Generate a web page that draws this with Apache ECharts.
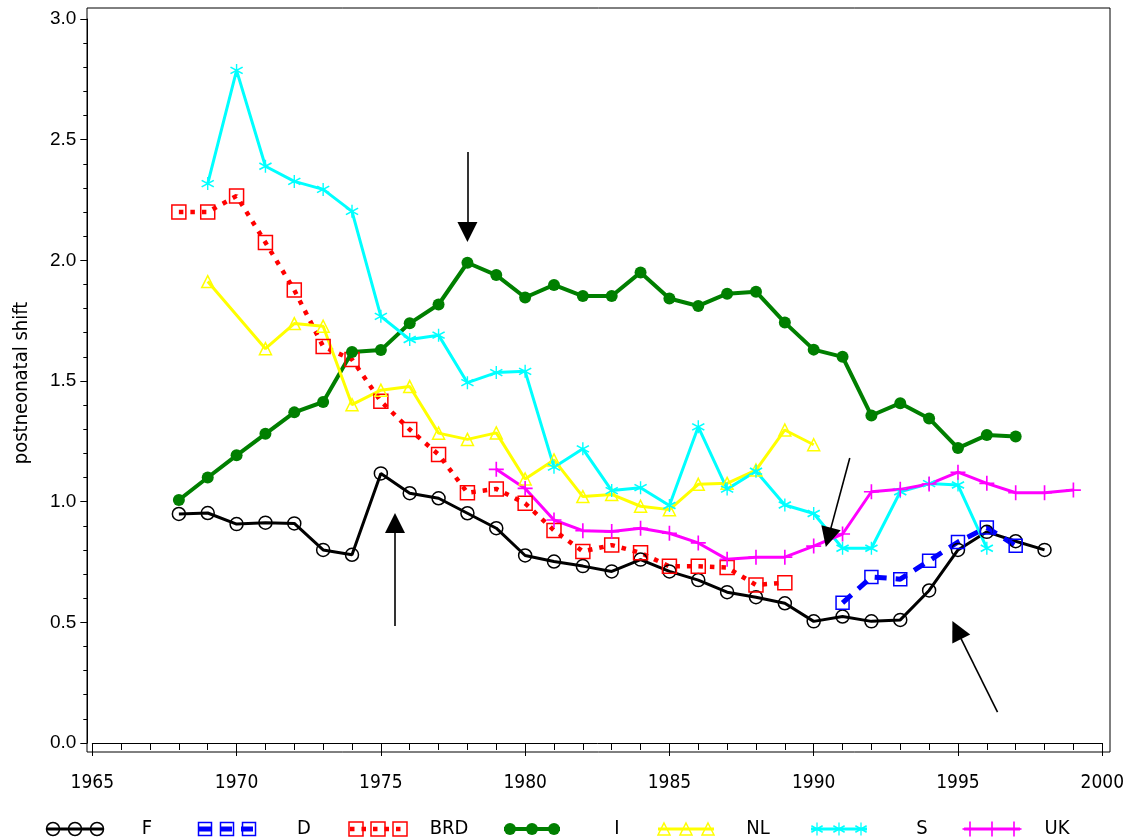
<!DOCTYPE html>
<html>
<head>
<meta charset="utf-8">
<script src="https://cdn.jsdelivr.net/npm/echarts@6/dist/echarts.min.js"></script>
<style>
  html, body { margin: 0; padding: 0; background: #fff; }
  #chart { width: 1127px; height: 840px; }
</style>
</head>
<body>
<div id="chart"></div>
<script>
// Years covered by the series (1968 .. 1999)
const years = [1968,1969,1970,1971,1972,1973,1974,1975,1976,1977,1978,1979,1980,1981,1982,1983,
               1984,1985,1986,1987,1988,1989,1990,1991,1992,1993,1994,1995,1996,1997,1998,1999];

// Postneonatal shift per country, one value per year (null = no data)
const valF = [0.949,0.953,0.907,0.913,0.910,0.800,0.780,1.117,1.035,1.014,0.952,0.890,0.777,0.752,0.733,0.711,
              0.760,0.711,0.675,0.625,0.604,0.579,0.504,0.524,0.504,0.510,0.632,0.800,0.875,0.836,0.800,null];
const valD = [null,null,null,null,null,null,null,null,null,null,null,null,null,null,null,null,
              null,null,null,null,null,null,null,0.581,0.688,0.679,0.755,0.833,0.893,0.817,null,null];
const valBRD = [2.200,2.200,2.267,2.074,1.877,1.643,1.589,1.416,1.299,1.195,1.037,1.053,0.993,0.881,0.794,0.820,
                0.788,0.732,0.732,0.727,0.655,0.664,null,null,null,null,null,null,null,null,null,null];
const valI = [1.007,1.100,1.192,1.281,1.370,1.413,1.620,1.628,1.739,1.817,1.990,1.939,1.846,1.898,1.852,1.852,
              1.950,1.842,1.811,1.862,1.870,1.742,1.630,1.600,1.357,1.408,1.345,1.222,1.276,1.270,null,null];
const valNL = [null,1.912,null,1.634,1.738,1.727,1.402,1.462,1.477,1.284,1.258,1.285,1.094,1.173,1.021,1.030,
               0.981,0.967,1.072,1.076,1.131,1.297,1.236,null,null,null,null,null,null,null,null,null];
const valS = [null,2.318,2.787,2.390,2.327,2.294,2.203,1.768,1.672,1.690,1.493,1.535,1.540,1.143,1.219,1.046,
              1.058,0.984,1.310,1.052,1.126,0.986,0.951,0.807,0.807,1.041,1.075,1.069,0.807,null,null,null];
const valUK = [null,null,null,null,null,null,null,null,null,null,null,1.134,1.055,0.924,0.880,0.876,
               0.890,0.869,0.829,0.761,0.770,0.770,0.816,0.866,1.041,1.051,1.073,1.122,1.076,1.037,1.037,1.048];

const seriesNames = ['F', 'D', 'BRD', 'I', 'NL', 'S', 'UK'];
const xTicks = [1965, 1970, 1975, 1980, 1985, 1990, 1995, 2000];
const yTicks = [0, 0.5, 1, 1.5, 2, 2.5, 3];

// Annotation arrows: [from, to] in (year, value) coordinates
const arrows = [
  [[1978.0, 2.449], [1978.0, 2.117]],
  [[1975.49, 0.485], [1975.49, 0.912]],
  [[1991.25, 1.181], [1990.51, 0.852]],
  [[1996.37, 0.128], [1994.96, 0.468]]
];

function pairs(vals) {
  const out = [];
  vals.forEach((v, i) => { if (v !== null) out.push([years[i], v]); });
  return out;
}

// Star and plus markers as bars inside a 20x20 box
const STAR_BARS = [
  [[9, 0], [11, 0], [11, 20], [9, 20]],
  [[1.94, 3.96], [19.26, 13.96], [18.06, 16.04], [0.74, 6.04]],
  [[0.74, 13.96], [18.06, 3.96], [19.26, 6.04], [1.94, 16.04]]
];
const PLUS_BARS = [
  [[8.9, 0], [11.1, 0], [11.1, 20], [8.9, 20]],
  [[0, 8.9], [20, 8.9], [20, 11.1], [0, 11.1]]
];
function barsToPath(bars) {
  return 'path://' + bars.map(b => 'M' + b.map(p => p[0] + ',' + p[1]).join(' L') + ' Z').join(' ');
}

const styles = {
  F:   { color: '#000000', width: 3,   dash: 'solid',  symbol: 'circle',   size: 13, hollow: true },
  D:   { color: '#0000ff', width: 5,   dash: [12, 9],  symbol: 'rect',     size: 13, hollow: true },
  BRD: { color: '#ff0000', width: 4.5, dash: [4.5, 7], symbol: 'rect',     size: 14, hollow: true },
  I:   { color: '#007f00', width: 4,   dash: 'solid',  symbol: 'circle',   size: 12, hollow: false },
  NL:  { color: '#ffff00', width: 3,   dash: 'solid',  symbol: 'triangle', size: 12, hollow: true },
  S:   { color: '#00ffff', width: 3,   dash: 'solid',  symbol: 'star',     size: 13, hollow: false },
  UK:  { color: '#ff00ff', width: 3,   dash: 'solid',  symbol: 'plus',     size: 15, hollow: false }
};
const values = { F: valF, D: valD, BRD: valBRD, I: valI, NL: valNL, S: valS, UK: valUK };

function seriesSymbol(sym) {
  if (sym === 'star') return barsToPath(STAR_BARS);
  if (sym === 'plus') return barsToPath(PLUS_BARS);
  return sym;
}

const series = seriesNames.map(name => {
  const st = styles[name];
  const s = {
    name: name,
    type: 'line',
    data: pairs(values[name]),
    connectNulls: true,
    symbol: seriesSymbol(st.symbol),
    symbolSize: st.size,
    showSymbol: true,
    lineStyle: { color: st.color, width: st.width, type: st.dash, cap: 'butt' },
    itemStyle: st.hollow
      ? { color: 'rgba(0,0,0,0)', borderColor: st.color, borderWidth: 1.5 }
      : { color: st.color, borderWidth: 0 },
    emphasis: { disabled: true },
    silent: true,
    z: 3
  };
  if (name === 'F') {
    s.markLine = {
      silent: true,
      symbol: ['none', 'triangle'],
      symbolSize: 20,
      label: { show: false },
      lineStyle: { color: '#000', width: 1.6, type: 'solid' },
      itemStyle: { color: '#000' },
      emphasis: { disabled: true },
      data: arrows.map(a => [{ coord: a[0] }, { coord: a[1] }])
    };
  }
  return s;
});

// Legend drawn as line samples with three markers each
const legendLeft = [47, 199, 350, 504, 658, 811, 964];
const legendText = [147, 304, 449, 617, 758, 922, 1057];
const legendY = 829;
const condensed = "'DejaVu Sans Condensed', 'Liberation Sans Narrow', sans-serif";

function markerShapes(name, cx, cy) {
  const st = styles[name];
  const r = st.size / 2;
  const hollowStyle = { fill: 'none', stroke: st.color, lineWidth: 1.5 };
  if (st.symbol === 'circle') {
    return [{ type: 'circle', shape: { cx, cy, r: r },
              style: st.hollow ? hollowStyle : { fill: st.color } }];
  }
  if (st.symbol === 'rect') {
    return [{ type: 'rect', shape: { x: cx - r, y: cy - r, width: 2 * r, height: 2 * r }, style: hollowStyle }];
  }
  if (st.symbol === 'triangle') {
    return [{ type: 'polygon', shape: { points: [[cx, cy - r], [cx + r, cy + r], [cx - r, cy + r]] }, style: hollowStyle }];
  }
  const bars = st.symbol === 'star' ? STAR_BARS : PLUS_BARS;
  const k = st.size / 20;
  return bars.map(b => ({
    type: 'polygon',
    shape: { points: b.map(p => [cx - r + p[0] * k, cy - r + p[1] * k]) },
    style: { fill: st.color }
  }));
}

const graphics = [
  { type: 'rect', shape: { x: 87, y: 8, width: 1023, height: 744 },
    style: { fill: 'none', stroke: '#000', lineWidth: 1 }, z: 10, silent: true },
  { type: 'text', x: 22, y: 383, rotation: Math.PI / 2,
    style: { text: 'postneonatal shift', font: "20px " + condensed, fill: '#000',
             textAlign: 'center', textVerticalAlign: 'middle' }, silent: true }
];
seriesNames.forEach((name, i) => {
  const st = styles[name];
  const x0 = legendLeft[i], x1 = x0 + 56;
  graphics.push({
    type: 'line', shape: { x1: x0, y1: legendY, x2: x1, y2: legendY },
    style: { stroke: st.color, lineWidth: st.width, lineDash: Array.isArray(st.dash) ? st.dash : null },
    silent: true
  });
  [x0 + 6, (x0 + x1) / 2, x1 - 6].forEach(cx => {
    markerShapes(name, cx, legendY).forEach(g => graphics.push(Object.assign(g, { silent: true })));
  });
  graphics.push({
    type: 'text', x: legendText[i], y: legendY,
    style: { text: name, font: "20px " + condensed, fill: '#000', textAlign: 'center', textVerticalAlign: 'middle' },
    silent: true
  });
});

const chart = echarts.init(document.getElementById('chart'), null, { renderer: 'canvas' });
chart.setOption({
  animation: false,
  backgroundColor: '#ffffff',
  grid: { left: 92.3, right: 21.8, top: 19, bottom: 97, containLabel: false },
  xAxis: {
    type: 'value',
    min: xTicks[0], max: xTicks[xTicks.length - 1], interval: 5,
    offset: 9,
    axisLine: { show: true, lineStyle: { color: '#000', width: 1 } },
    axisTick: { show: true, length: 13, lineStyle: { color: '#000', width: 1 } },
    minorTick: { show: true, splitNumber: 5, length: 7, lineStyle: { color: '#000', width: 1 } },
    splitLine: { show: false },
    axisLabel: { show: true, margin: 22, color: '#000', fontSize: 19, fontFamily: condensed,
                 formatter: v => String(v) }
  },
  yAxis: {
    type: 'value',
    min: yTicks[0], max: yTicks[yTicks.length - 1], interval: 0.5,
    offset: 5,
    axisLine: { show: true, lineStyle: { color: '#000', width: 1 } },
    axisTick: { show: true, length: 7, lineStyle: { color: '#000', width: 1 } },
    minorTick: { show: true, splitNumber: 5, length: 4, lineStyle: { color: '#000', width: 1 } },
    splitLine: { show: false },
    axisLabel: { show: true, margin: 11, color: '#000', fontSize: 19, fontFamily: "'Liberation Sans', Arial, sans-serif",
                 formatter: v => v.toFixed(1) }
  },
  graphic: graphics,
  series: series
});
</script>
</body>
</html>
